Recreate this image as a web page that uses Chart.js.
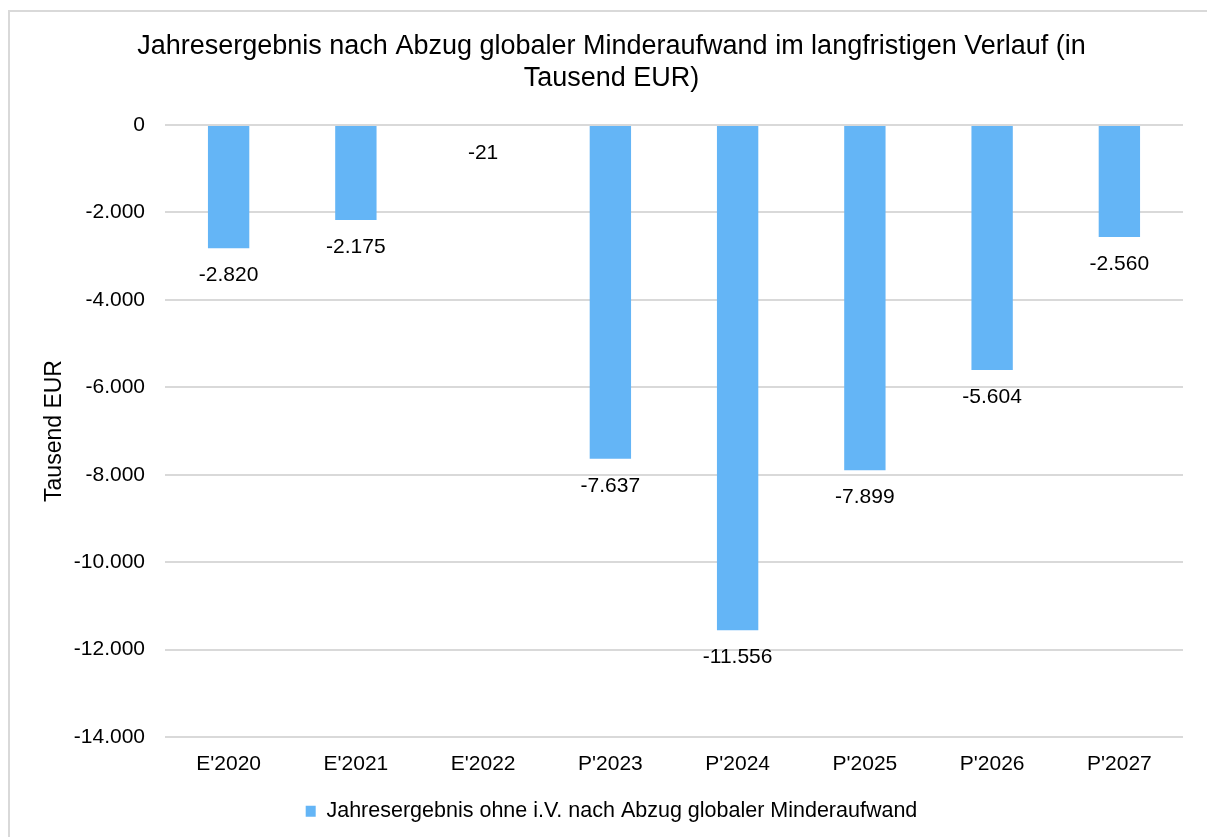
<!DOCTYPE html>
<html>
<head>
<meta charset="utf-8">
<script src="https://cdn.jsdelivr.net/npm/chart.js@4/dist/chart.umd.min.js"></script>
<style>
html,body{margin:0;padding:0;background:#fff;}
canvas{display:block;}
</style>
</head>
<body>
<canvas id="c" width="1207" height="837"></canvas>
<script>
const categories = ["E'2020","E'2021","E'2022","P'2023","P'2024","P'2025","P'2026","P'2027"];
const values = [-2820,-2175,-21,-7637,-11556,-7899,-5604,-2560];
const seriesName = "Jahresergebnis ohne i.V. nach Abzug globaler Minderaufwand";
const titleLines = ["Jahresergebnis nach Abzug globaler Minderaufwand im langfristigen Verlauf (in","Tausend EUR)"];
const yAxisTitle = "Tausend EUR";
const yMin = -14000, yMax = 0, yStep = 2000;

function fmt(v){
  const neg = v < 0;
  let s = String(Math.abs(Math.round(v)));
  s = s.replace(/\B(?=(\d{3})+(?!\d))/g, ".");
  return (neg ? "-" : "") + s;
}

const FONT = "'Liberation Sans', Arial, sans-serif";

const frame = {
  id: 'frame',
  beforeDraw(chart){
    const ctx = chart.ctx;
    ctx.save();
    ctx.fillStyle = '#fff';
    ctx.fillRect(0,0,chart.width,chart.height);
    ctx.strokeStyle = '#d9d9d9';
    ctx.lineWidth = 2;
    ctx.beginPath();
    ctx.moveTo(9, chart.height + 5);
    ctx.lineTo(9, 11);
    ctx.lineTo(chart.width + 5, 11);
    ctx.stroke();
    ctx.restore();
  }
};

const dataLabels = {
  id: 'dataLabels',
  afterDatasetsDraw(chart){
    const ctx = chart.ctx;
    const meta = chart.getDatasetMeta(0);
    ctx.save();
    ctx.font = "21px " + FONT;
    ctx.fillStyle = '#000';
    ctx.textAlign = 'center';
    ctx.textBaseline = 'middle';
    meta.data.forEach((el, i) => {
      const v = chart.data.datasets[0].data[i];
      ctx.fillText(fmt(v), el.x, el.y + 27);
    });
    ctx.restore();
  }
};

const shiftBoxes = {
  id: 'shiftBoxes',
  afterLayout(chart){
    const lg = chart.legend;
    if (lg){ lg.left += 20; lg.right += 20; }
    const tb = chart.titleBlock;
    if (tb){ tb.left += 20; tb.right += 20; }
  }
};

new Chart(document.getElementById('c'), {
  type: 'bar',
  data: {
    labels: categories,
    datasets: [{
      label: seriesName,
      data: values,
      backgroundColor: '#64B5F6',
      borderWidth: 0,
      barPercentage: 0.325,
      categoryPercentage: 1.0
    }]
  },
  options: {
    responsive: false,
    animation: false,
    devicePixelRatio: 1,
    layout: { padding: { left: 0, right: 24, top: 0, bottom: 5 } },
    plugins: {
      title: {
        display: true,
        text: titleLines,
        color: '#000',
        font: { family: FONT, size: 27, weight: 'normal', lineHeight: 1.17 },
        padding: { top: 31.2, bottom: 30.6 }
      },
      legend: {
        display: true,
        position: 'bottom',
        labels: {
          color: '#000',
          font: { family: FONT, size: 21.5 },
          boxWidth: 10,
          boxHeight: 11,
          padding: 10
        }
      },
      tooltip: { enabled: false }
    },
    scales: {
      x: {
        grid: { display: false, drawTicks: false },
        border: { display: false },
        ticks: { color: '#000', font: { family: FONT, size: 21 }, padding: 15, maxRotation: 0 },
        afterFit(s){ s.height = 53.5; }
      },
      y: {
        min: yMin, max: yMax,
        grid: { color: '#d9d9d9', lineWidth: 2, drawTicks: false },
        border: { display: false },
        ticks: { stepSize: yStep, color: '#000', font: { family: FONT, size: 21 }, padding: 20, callback: v => fmt(v) },
        title: { display: true, text: yAxisTitle, color: '#000', font: { family: FONT, size: 23, lineHeight: 1.2 }, padding: { top: 41, bottom: 0 } },
        afterFit(s){ s.width = 165; }
      }
    }
  },
  plugins: [frame, dataLabels, shiftBoxes]
});
</script>
</body>
</html>
